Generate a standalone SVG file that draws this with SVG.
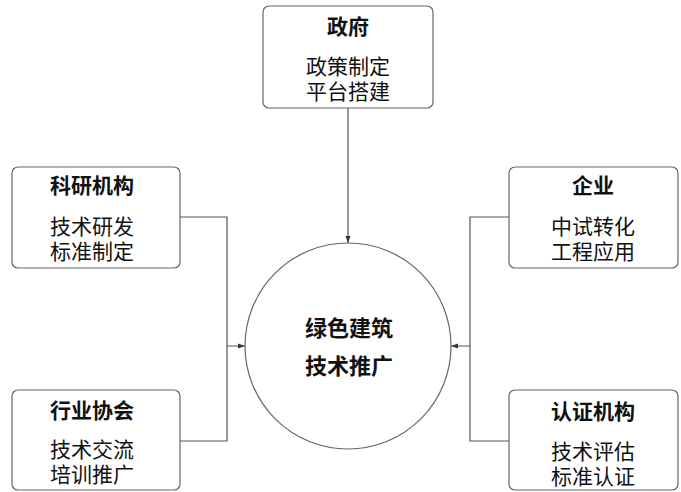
<svg xmlns="http://www.w3.org/2000/svg" width="681" height="492" viewBox="0 0 681 492">
<style>
.box{fill:#fff;stroke:#666;stroke-width:1.2}
.t{font-family:"Liberation Sans","Noto Sans CJK SC",sans-serif;font-size:21px;fill:#111;text-anchor:middle;dominant-baseline:central}
.b{font-weight:bold}
.m{font-size:22px}
.c{fill:none;stroke:#555;stroke-width:1.2}
</style>
<defs>
<marker id="ah" markerWidth="8" markerHeight="8" refX="7" refY="4" orient="auto" markerUnits="userSpaceOnUse">
<path d="M0,1.5 L7,4 L0,6.5 Z" fill="#333"/>
</marker>
</defs>
<rect width="681" height="492" fill="#fff"/>
<g id="connectors">
<path class="c" d="M348,108 V243" marker-end="url(#ah)"/>
<path class="c" d="M180,217 H227 V441 H180 M227,346 H245" marker-end="url(#ah)"/>
<path class="c" d="M509,217 H470 V441 H509 M470,346 H451" marker-end="url(#ah)"/>
</g>
<g id="center">
<circle cx="348" cy="346" r="103" fill="#fff" stroke="#666" stroke-width="1.2"/>
<text class="t b m" x="349" y="328">绿色建筑</text>
<text class="t b m" x="349" y="366">技术推广</text>
</g>
<g id="gov">
<rect class="box" x="263" y="6" width="170" height="102" rx="6"/>
<text class="t b" x="348" y="26">政府</text>
<text class="t" x="348" y="66">政策制定</text>
<text class="t" x="348" y="91">平台搭建</text>
</g>
<g id="research">
<rect class="box" x="12" y="167" width="168" height="101" rx="6"/>
<text class="t b" x="92" y="185">科研机构</text>
<text class="t" x="92" y="226">技术研发</text>
<text class="t" x="92" y="251">标准制定</text>
</g>
<g id="association">
<rect class="box" x="12" y="390" width="168" height="100" rx="6"/>
<text class="t b" x="92" y="410">行业协会</text>
<text class="t" x="92" y="449">技术交流</text>
<text class="t" x="92" y="474">培训推广</text>
</g>
<g id="enterprise">
<rect class="box" x="509" y="167" width="169" height="101" rx="6"/>
<text class="t b" x="593" y="185">企业</text>
<text class="t" x="593" y="226">中试转化</text>
<text class="t" x="593" y="251">工程应用</text>
</g>
<g id="certification">
<rect class="box" x="509" y="390" width="169" height="100" rx="6"/>
<text class="t b" x="593" y="411">认证机构</text>
<text class="t" x="593" y="451">技术评估</text>
<text class="t" x="593" y="476">标准认证</text>
</g>
</svg>
